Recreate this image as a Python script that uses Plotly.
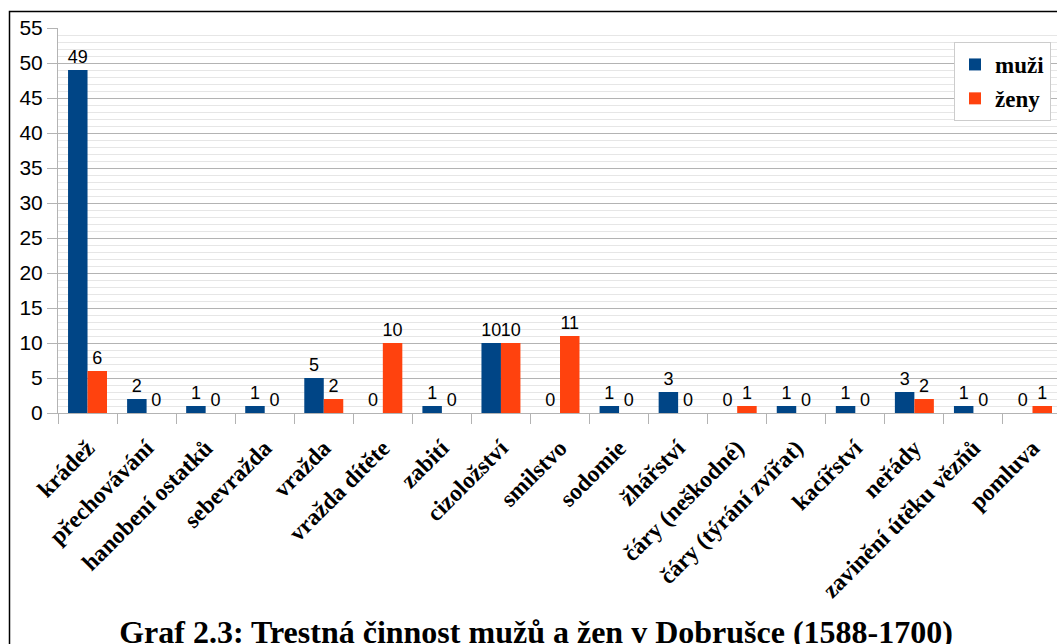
import plotly.graph_objects as go

categories = ["krádež", "přechovávání", "hanobení ostatků", "sebevražda", "vražda",
              "vražda dítěte", "zabití", "cizoložství", "smilstvo", "sodomie", "žhářství",
              "čáry (neškodné)", "čáry (týrání zvířat)", "kacířství", "neřády",
              "zavinění útěku vězňů", "pomluva"]
muzi = [49, 2, 1, 1, 5, 0, 1, 10, 0, 1, 3, 0, 1, 1, 3, 1, 0]
zeny = [6, 0, 0, 0, 2, 10, 0, 10, 11, 0, 0, 1, 0, 0, 2, 0, 1]
y_ticks = list(range(0, 56, 5))
title_text = "Graf 2.3: Trestná činnost mužů a žen v Dobrušce (1588-1700)"

SANS = "Liberation Sans, Arial, sans-serif"
SERIF = "Liberation Serif, Times New Roman, serif"

fig = go.Figure()
fig.add_trace(go.Bar(x=categories, y=muzi, name="muži", marker_color="#004586",
                     marker_line_width=0, text=muzi, textposition="outside",
                     textfont=dict(family=SANS, size=18, color="#000000"),
                     constraintext="none", cliponaxis=False, legendgroup="a"))
fig.add_trace(go.Bar(x=categories, y=zeny, name="ženy", marker_color="#ff420e",
                     marker_line_width=0, text=zeny, textposition="outside",
                     textfont=dict(family=SANS, size=18, color="#000000"),
                     constraintext="none", cliponaxis=False, legendgroup="b"))

W, H = 1057, 644
L, R, T, B = 58, 0, 28, 231
pw = W - L - R
ph = H - T - B

fig.update_layout(
    width=W, height=H,
    margin=dict(l=L, r=R, t=T, b=B, pad=0),
    paper_bgcolor="white", plot_bgcolor="white",
    barmode="group", bargap=0.34, bargroupgap=0,
    title=dict(text="<b>" + title_text + "</b>", xref="container", yref="container",
               x=536 / W, y=(H - 632) / H, xanchor="center", yanchor="middle",
               font=dict(family=SERIF, size=32, color="#000000")),
    legend=dict(x=(954 - L) / pw, y=(H - B - 42) / ph, xanchor="left", yanchor="top",
                bgcolor="white", bordercolor="#cccccc", borderwidth=1,
                font=dict(family=SERIF, size=23, color="#000000", weight="bold"),
                tracegroupgap=1, itemwidth=30),
    xaxis=dict(type="category", range=[-0.5, -0.5 + pw / 59.06],
               tickson="boundaries", ticks="outside", ticklen=10, tickcolor="#b3b3b3",
               showline=True, linecolor="#b3b3b3", linewidth=1, showgrid=False,
               tickangle=-45, ticklabelstandoff=11,
               tickfont=dict(family=SERIF, size=23.5, color="#000000", weight="bold")),
    yaxis=dict(range=[0, 55], tickvals=y_ticks, ticks="outside", ticklen=10,
               tickcolor="#b3b3b3", showline=True, linecolor="#b3b3b3", linewidth=1,
               showgrid=True, gridcolor="#b3b3b3", gridwidth=1, zeroline=False,
               minor=dict(dtick=1, showgrid=True, gridcolor="#e6e6e6", gridwidth=1),
               tickfont=dict(family=SANS, size=21, color="#000000")),
    shapes=[dict(type="rect", xref="paper", yref="paper",
                 x0=(9.5 - L) / pw, x1=(W + 20 - L) / pw,
                 y0=-(B + 20) / ph, y1=(H - B - 11.5) / ph,
                 line=dict(color="#000000", width=1.5), fillcolor="rgba(0,0,0,0)",
                 layer="above")],
)

fig.write_html("out.html", config={"displayModeBar": False},
               post_script="document.body.style.margin='0px';document.body.style.overflow='hidden';")
